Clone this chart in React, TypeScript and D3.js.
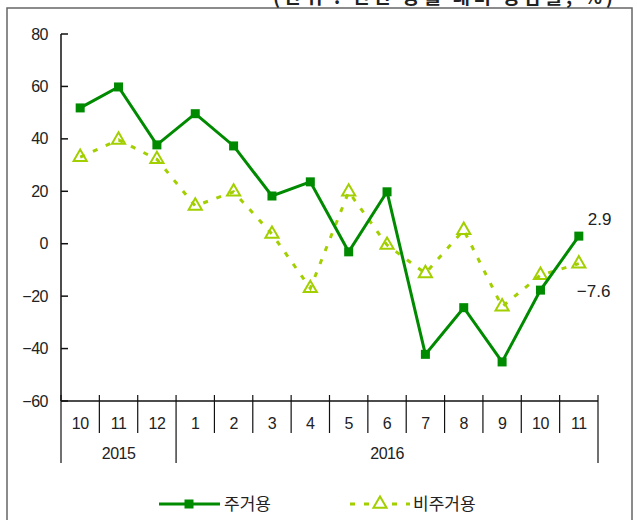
import React, { useRef, useEffect } from 'react';
import * as d3 from 'd3';

const months = ['10', '11', '12', '1', '2', '3', '4', '5', '6', '7', '8', '9', '10', '11'];
const years = [
  { label: '2015', start: 0, end: 3 },
  { label: '2016', start: 3, end: 14 },
];
const residential = [51.8, 59.8, 37.7, 49.6, 37.3, 18.2, 23.6, -3.1, 19.8, -42.2, -24.4, -45.1, -17.7, 2.9];
const nonResidential = [33.0, 39.6, 32.2, 14.4, 19.8, 3.7, -17.0, 19.8, -0.5, -11.3, 5.2, -24.0, -12.0, -7.6];
const yTicks = [80, 60, 40, 20, 0, -20, -40, -60];

const FONT = '"Liberation Sans", Arial, sans-serif';
const KFONT = '"Noto Sans CJK KR", sans-serif';
const DARK = '#008a00';
const LIGHT = '#a2cf00';

function App() {
  const ref = useRef<SVGSVGElement>(null);

  useEffect(() => {
    const svg = d3.select(ref.current);
    svg.selectAll('*').remove();

    const left = 61;
    const right = 598;
    const x = d3.scaleBand<number>().domain(d3.range(months.length)).range([left, right]);
    const y = d3.scaleLinear().domain([-60, 80]).range([401, 34]);
    const cx = (i: number) => (x(i) as number) + x.bandwidth() / 2;

    // frame
    svg.append('rect')
      .attr('x', 7).attr('y', 8).attr('width', 625).attr('height', 530)
      .attr('fill', 'none').attr('stroke', '#666').attr('stroke-width', 1.5);

    // unit note, cut off at the top as in the source
    svg.append('text')
      .attr('x', 273).attr('y', 4)
      .attr('textLength', 340).attr('lengthAdjust', 'spacing')
      .attr('font-family', KFONT).attr('font-size', 19).attr('font-weight', 'bold').attr('fill', '#222')
      .text('(단위 : 전년 동월 대비 증감률, %)');

    // y axis
    svg.append('line')
      .attr('x1', left).attr('x2', left).attr('y1', y(80)).attr('y2', y(-60))
      .attr('stroke', '#111').attr('stroke-width', 1.5);
    const yg = svg.append('g');
    yTicks.forEach((t) => {
      yg.append('line')
        .attr('x1', left).attr('x2', left + 7).attr('y1', y(t)).attr('y2', y(t))
        .attr('stroke', '#111').attr('stroke-width', 1.5);
      yg.append('text')
        .attr('x', 48).attr('y', y(t)).attr('dy', '0.35em')
        .attr('text-anchor', 'end')
        .attr('font-family', FONT).attr('font-size', 16).attr('letter-spacing', -0.5).attr('fill', '#222')
        .text(t < 0 ? '\u2212' + Math.abs(t) : String(t));
    });

    // x axis
    svg.append('line')
      .attr('x1', left).attr('x2', right).attr('y1', y(-60)).attr('y2', y(-60))
      .attr('stroke', '#111').attr('stroke-width', 1.5);
    const yearEdges = new Set<number>();
    years.forEach((yr) => { yearEdges.add(yr.start); yearEdges.add(yr.end); });
    for (let i = 0; i <= months.length; i++) {
      const xp = i < months.length ? (x(i) as number) : right;
      svg.append('line')
        .attr('x1', xp).attr('x2', xp)
        .attr('y1', y(-60) - 6).attr('y2', yearEdges.has(i) ? 463 : 433)
        .attr('stroke', '#111').attr('stroke-width', 1.2);
    }
    months.forEach((m, i) => {
      svg.append('text')
        .attr('x', cx(i)).attr('y', 423).attr('dy', '0.35em')
        .attr('text-anchor', 'middle')
        .attr('font-family', FONT).attr('font-size', 16).attr('letter-spacing', -0.5).attr('fill', '#222')
        .text(m);
    });
    years.forEach((yr) => {
      const a = x(yr.start) as number;
      const b = yr.end < months.length ? (x(yr.end) as number) : right;
      svg.append('text')
        .attr('x', (a + b) / 2).attr('y', 453).attr('dy', '0.35em')
        .attr('text-anchor', 'middle')
        .attr('font-family', FONT).attr('font-size', 16).attr('letter-spacing', -0.5).attr('fill', '#222')
        .text(yr.label);
    });

    const line = d3.line<number>().x((_, i) => cx(i)).y((d) => y(d));
    const tri = d3.symbol().type(d3.symbolTriangle).size(75);

    // non-residential (dashed)
    svg.append('path')
      .attr('d', line(nonResidential))
      .attr('fill', 'none').attr('stroke', LIGHT).attr('stroke-width', 3)
      .attr('stroke-dasharray', '5 9');
    svg.selectAll('.tri').data(nonResidential).enter().append('path')
      .attr('d', tri)
      .attr('transform', (d, i) => `translate(${cx(i)},${y(d)})`)
      .attr('fill', 'white').attr('fill-opacity', 0).attr('stroke', LIGHT).attr('stroke-width', 2);

    // residential (solid)
    svg.append('path')
      .attr('d', line(residential))
      .attr('fill', 'none').attr('stroke', DARK).attr('stroke-width', 3);
    svg.selectAll('.sq').data(residential).enter().append('rect')
      .attr('x', (d, i) => cx(i) - 4.5).attr('y', (d) => y(d) - 4.5)
      .attr('width', 9).attr('height', 9).attr('fill', DARK);

    // end labels
    const last = months.length - 1;
    svg.append('text')
      .attr('x', cx(last) + 9).attr('y', y(residential[last]) - 17).attr('dy', '0.35em')
      .attr('font-family', FONT).attr('font-size', 17).attr('fill', '#222')
      .text(String(residential[last]));
    svg.append('text')
      .attr('x', cx(last) - 2).attr('y', y(nonResidential[last]) + 27).attr('dy', '0.35em')
      .attr('font-family', FONT).attr('font-size', 17).attr('fill', '#222')
      .text('\u2212' + Math.abs(nonResidential[last]));

    // legend
    const ly = 504;
    svg.append('line').attr('x1', 159).attr('x2', 220).attr('y1', ly).attr('y2', ly)
      .attr('stroke', DARK).attr('stroke-width', 3);
    svg.append('rect').attr('x', 184.5).attr('y', ly - 4.5).attr('width', 9).attr('height', 9).attr('fill', DARK);
    svg.append('text').attr('x', 224).attr('y', ly).attr('dy', '0.35em')
      .attr('font-family', KFONT).attr('font-size', 17).attr('fill', '#222').text('주거용');

    svg.append('line').attr('x1', 350).attr('x2', 410).attr('y1', ly).attr('y2', ly)
      .attr('stroke', LIGHT).attr('stroke-width', 3).attr('stroke-dasharray', '5 9');
    svg.append('path').attr('d', tri).attr('transform', `translate(380,${ly})`)
      .attr('fill', 'white').attr('stroke', LIGHT).attr('stroke-width', 2);
    svg.append('text').attr('x', 413).attr('y', ly).attr('dy', '0.35em')
      .attr('font-family', KFONT).attr('font-size', 17).attr('fill', '#222').text('비주거용');
  }, []);

  return (
    <svg
      ref={ref}
      width={637}
      height={520}
      style={{ position: 'absolute', left: 0, top: 0, background: 'white' }}
    />
  );
}

export default App;
